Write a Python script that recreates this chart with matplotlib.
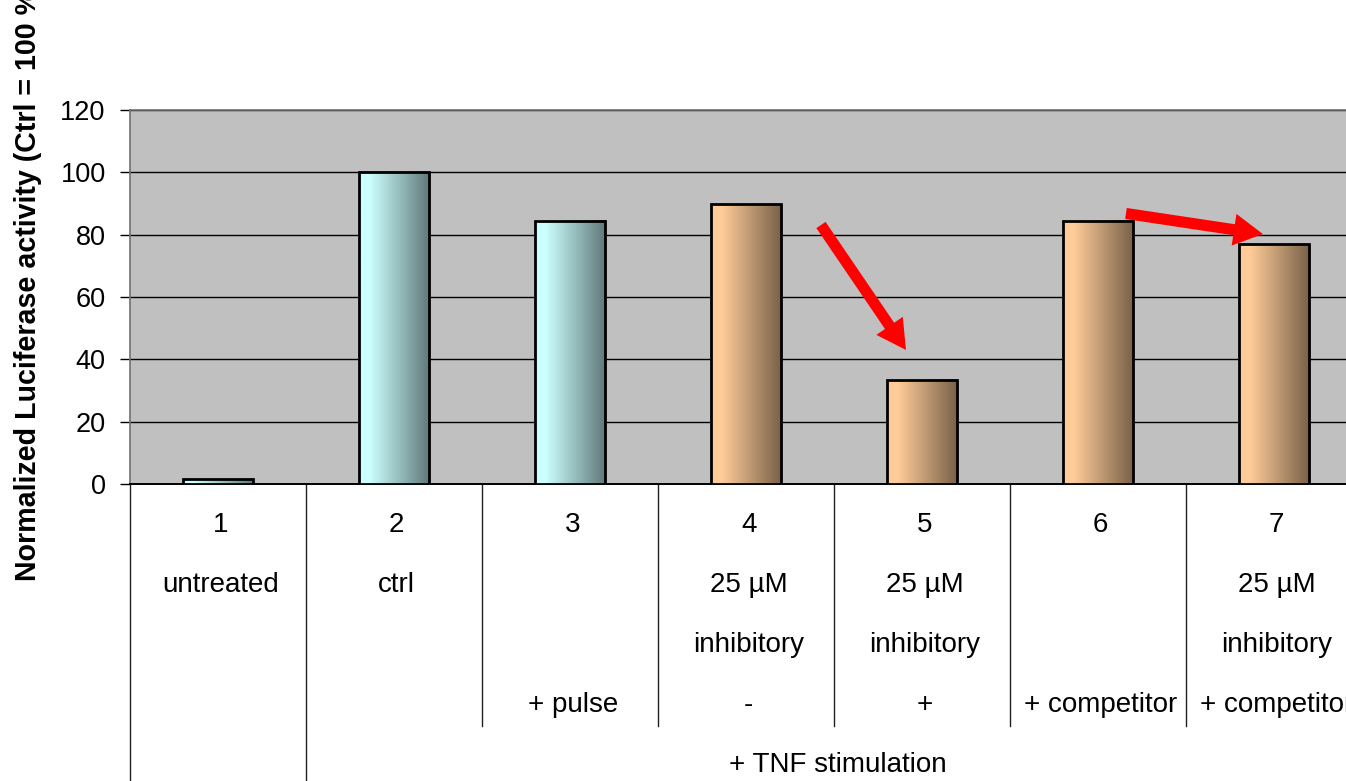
import numpy as np
import matplotlib
matplotlib.use("Agg")
import matplotlib.pyplot as plt
from matplotlib.colors import LinearSegmentedColormap
from matplotlib.patches import FancyArrowPatch

plt.rcParams['font.family'] = ['Liberation Sans', 'DejaVu Sans']

# ---- data -------------------------------------------------------------
lanes = ['1', '2', '3', '4', '5', '6', '7']
activity = [1.5, 100.0, 84.4, 89.7, 33.4, 84.4, 76.9]
row_treatment = ['untreated', 'ctrl', '', '25 µM', '25 µM', '', '25 µM']
row_agent = ['', '', '', 'inhibitory', 'inhibitory', '', 'inhibitory']
row_modifier = ['', '', '+ pulse', '-', '+', '+ competitor', '+ competitor']
group_label = '+ TNF stimulation'
bar_group = ['control', 'control', 'control', 'oligo', 'oligo', 'oligo', 'oligo']
y_ticks = [0, 20, 40, 60, 80, 100, 120]
y_label = 'Normalized Luciferase activity (Ctrl = 100 %)'

W, H = 1346, 781
fig = plt.figure(figsize=(W / 100, H / 100), dpi=100)
ax_left, ax_right, ax_top, ax_bot = 130, 1362, 110, 484
ax = fig.add_axes([ax_left / W, (H - ax_bot) / H,
                   (ax_right - ax_left) / W, (ax_bot - ax_top) / H])
ax.set_facecolor('#C0C0C0')

# horizontal gradient colormaps (light left, shaded right)
def shade_cmap(name, light):
    light = np.array(matplotlib.colors.to_rgb(light))
    dark = light * 0.47
    return LinearSegmentedColormap.from_list(
        name, [(0.0, light), (0.15, light), (1.0, dark)])

cmaps = {'control': shade_cmap('cy', '#CCFFFF'),
         'oligo': shade_cmap('pe', '#FFCC99')}

bar_w = 0.40
xs = np.arange(len(lanes))
grad = np.linspace(0, 1, 256).reshape(1, -1)
for x, v, g in zip(xs, activity, bar_group):
    ax.imshow(grad, cmap=cmaps[g], aspect='auto', interpolation='bilinear',
              extent=(x - bar_w / 2, x + bar_w / 2, 0, v), zorder=3)
ax.bar(xs, activity, width=bar_w, fill=False, edgecolor='black',
       linewidth=2.0, zorder=4)
ax.set_xlim(-0.5, len(lanes) - 0.5)
ax.set_ylim(0, 120)

# grid and axes styling
ax.set_yticks(y_ticks)
ax.set_yticklabels([str(t) for t in y_ticks], fontsize=19.5)
ax.yaxis.grid(True, color='black', linewidth=1.0, zorder=1)
ax.set_axisbelow(True)
ax.tick_params(axis='y', length=7.5, width=1.0, color='black', pad=10)
ax.set_xticks([])
for s in ['top', 'left']:
    ax.spines[s].set_color('#707070')
    ax.spines[s].set_linewidth(1.2)
ax.spines['right'].set_visible(False)
ax.spines['bottom'].set_color('black')
ax.spines['bottom'].set_linewidth(1.4)

# red arrows highlighting the drop
arrow_kw = dict(arrowstyle='simple,head_length=21,head_width=23,tail_width=8',
                mutation_scale=1, color='#FF0000', linewidth=0, zorder=6,
                shrinkA=0, shrinkB=0)
ax.add_patch(FancyArrowPatch((3.426, 83.1), (3.909, 43.0), **arrow_kw))
ax.add_patch(FancyArrowPatch((5.159, 86.8), (5.937, 80.2), **arrow_kw))

# data table beneath the axis
tr = ax.get_xaxis_transform()
def fy(px):
    return (ax_bot - px) / (ax_bot - ax_top)

for k in range(len(lanes) - 1):
    bottom = fy(781) if k == 0 else fy(726)
    ax.plot([k + 0.5, k + 0.5], [0, bottom], color='#202020', lw=1.0,
            transform=tr, clip_on=False)
ax.plot([-0.5, -0.5], [0, fy(781)], color='#202020', lw=1.0,
        transform=tr, clip_on=False)

rows = [lanes, row_treatment, row_agent, row_modifier]
row_y = [525, 585, 645, 705]
for labels, ypx in zip(rows, row_y):
    for x, t in zip(xs, labels):
        if t:
            ax.text(x + 0.015, fy(ypx), t, transform=tr, ha='center',
                    va='center', fontsize=20, clip_on=False)
ax.text((1 + len(lanes) - 1) / 2 + 0.02, fy(765), group_label, transform=tr,
        ha='center', va='center', fontsize=20, clip_on=False)

fig.text(28 / W, (H - 581) / H, y_label, rotation=90, ha='center',
         va='bottom', fontsize=20.6, fontweight='bold')

fig.savefig('out.png', dpi=100)
